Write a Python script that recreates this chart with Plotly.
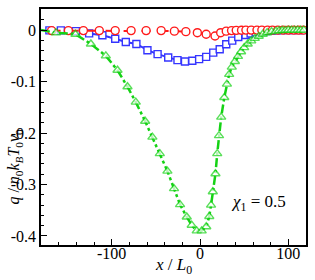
import plotly.graph_objects as go

# ---- data ----
red_x = [-168, -149, -132, -114, -96, -78, -61, -44, -29, -16, -3, 7, 17, 23.4, 29.7,
         35.7, 41, 47, 52, 58, 64.5, 70, 76.5, 82, 88, 94, 100, 106, 111.5, 117]
red_y = [-0.001, -0.001, -0.001, -0.001, -0.001, -0.001, -0.001, -0.001, -0.002, -0.003,
         -0.005, -0.008, -0.0115, -0.005, -0.002, -0.001, -0.0005, -0.0003, 0, 0,
         0, 0, 0, 0, 0, 0, 0, 0, 0, 0]

blue_x = [-170.5, -157.5, -140.5, -125.5, -110.5, -96, -84, -72, -59.5, -48, -36, -25.5,
          -17, -8.7, -1, 7, 15, 22.3, 29.7, 36.5, 43.3, 51.6, 57.3, 63, 69, 75, 81, 87,
          93, 99, 105, 111, 117]
blue_y = [-0.0006, -0.0006, -0.002, -0.0064, -0.010, -0.0168, -0.023, -0.027, -0.039,
          -0.0467, -0.0533, -0.0583, -0.061, -0.0596, -0.0563, -0.052, -0.0437, -0.0371,
          -0.0275, -0.0205, -0.0135, -0.0096, -0.0065, -0.0045, -0.003, -0.002, -0.001,
          -0.0005, 0, 0, 0, 0, 0]

green_x = [-180, -163, -141, -123.5, -106.6, -93.4, -82.1, -72.7, -62.1, -53.9, -45.5,
           -36.9, -29.4, -22.6, -15.0, -9.4, -3.7, 1.9, 7.1, 10.5, 12.5, 14.5, 17.5, 19.5,
           21.5, 24, 27.5, 30.5, 33, 36, 39.5, 43, 46.5, 50, 54, 58, 62, 66.5, 71, 76, 81,
           86, 89.5, 93, 96.5, 100, 103.5, 107, 110.5, 114, 117.5]
green_y = [0, -0.005, -0.008, -0.027, -0.050, -0.078, -0.110, -0.140, -0.177, -0.208,
           -0.240, -0.274, -0.308, -0.339, -0.363, -0.379, -0.390, -0.390, -0.382, -0.362,
           -0.340, -0.314, -0.279, -0.240, -0.205, -0.169, -0.131, -0.105, -0.086, -0.072,
           -0.061, -0.051, -0.042, -0.034, -0.027, -0.021, -0.016, -0.012, -0.008, -0.005,
           -0.003, -0.002, -0.001, -0.0007, -0.0004, 0, 0, 0, 0, 0, 0]

x_ticks = [-100, 0, 100]
x_ticktext = ["-100", "0", "100"]
y_ticks = [0, -0.1, -0.2, -0.3, -0.4]
y_ticktext = ["0", "-0.1", "-0.2", "-0.3", "-0.4"]

RED = "#ff1a1a"
BLUE = "#3535ff"
GREEN = "#14d214"
FONT = "Liberation Serif, Times New Roman, DejaVu Serif, serif"

fig = go.Figure()

fig.add_trace(go.Scatter(
    x=blue_x, y=blue_y, mode="lines+markers",
    line=dict(color=BLUE, width=2),
    marker=dict(symbol="square", size=7, color="white", line=dict(width=1.4, color=BLUE)),
))
fig.add_trace(go.Scatter(
    x=red_x, y=red_y, mode="lines+markers",
    line=dict(color=RED, width=2, dash="dash"),
    marker=dict(symbol="circle", size=8, color="white", line=dict(width=1.4, color=RED)),
))
green_sizes = [0] + [8] * (len(green_x) - 1)
fig.add_trace(go.Scatter(
    x=green_x, y=green_y, mode="lines+markers",
    line=dict(color=GREEN, width=2.5, dash="dashdot"),
    marker=dict(symbol="triangle-up", size=green_sizes, color="white",
                line=dict(width=1.4, color=GREEN)),
))

fig.update_layout(
    width=315, height=280,
    margin=dict(l=41, r=7, t=8, b=35),
    paper_bgcolor="white", plot_bgcolor="white",
    showlegend=False,
    font=dict(family=FONT, size=16, color="black"),
)
fig.update_xaxes(
    range=[-180, 120], showgrid=False, zeroline=False,
    showline=True, linecolor="black", linewidth=1.5, mirror=True,
    tickmode="array", tickvals=x_ticks, ticktext=x_ticktext,
    ticks="inside", ticklen=6, tickwidth=1.2, tickcolor="black",
    ticklabelstandoff=-7,
    minor=dict(tickmode="linear", tick0=0, dtick=20, ticks="inside", ticklen=3,
               tickwidth=1, tickcolor="black", showgrid=False),
    tickfont=dict(family=FONT, size=16, color="black"),
)
fig.update_yaxes(
    range=[-0.4175, 0.041], showgrid=False, zeroline=False,
    showline=True, linecolor="black", linewidth=1.5, mirror=True,
    tickmode="array", tickvals=y_ticks, ticktext=y_ticktext,
    ticks="inside", ticklen=6, tickwidth=1.2, tickcolor="black",
    minor=dict(tickmode="linear", tick0=0, dtick=0.02, ticks="inside", ticklen=3,
               tickwidth=1, tickcolor="black", showgrid=False),
    tickfont=dict(family=FONT, size=16, color="black"),
)

fig.add_annotation(
    text="<i>x</i> / <i>L</i><sub>0</sub>", xref="paper", yref="paper",
    x=0.5, y=-0.09, xanchor="center", yanchor="middle", showarrow=False,
    font=dict(family=FONT, size=17, color="black"),
)
fig.add_annotation(
    text="<i>q</i> / <i>n</i><sub>0</sub><i>k</i><sub><i>B</i></sub><i>T</i><sub>0</sub><i>v</i><sub>0</sub>",
    xref="paper", yref="paper", x=-0.1, y=0.33, xanchor="center", yanchor="middle",
    textangle=-90, showarrow=False, font=dict(family=FONT, size=16, color="black"),
)
fig.add_annotation(
    text="<i>χ</i><sub>1</sub> = 0.5", xref="paper", yref="paper",
    x=0.82, y=0.18, xanchor="center", yanchor="middle", showarrow=False,
    font=dict(family=FONT, size=17, color="black"),
)

fig.write_html(
    "out.html",
    config={"displayModeBar": False},
    post_script="document.body.style.margin='0';document.body.style.padding='0';"
                "document.documentElement.style.overflow='hidden';",
)
